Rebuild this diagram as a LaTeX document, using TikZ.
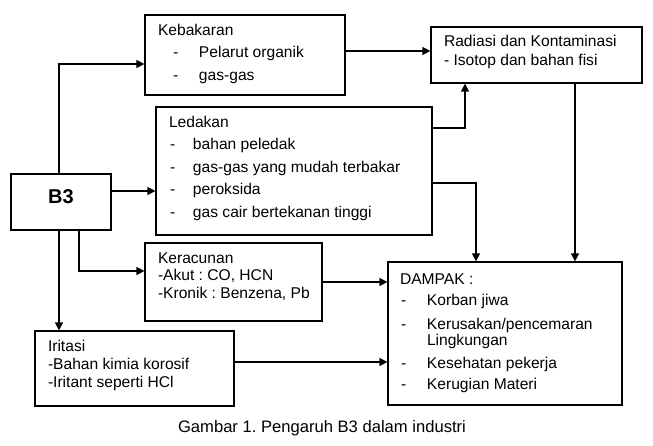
\documentclass[tikz,border=0pt]{standalone}
\usepackage{fontspec}
\setmainfont{Liberation Sans}
\usetikzlibrary{arrows.meta,positioning}
\newcommand{\butir}[2]{\hspace*{#1}\makebox[#2][l]{-}}
\frenchspacing
\tikzset{
	every picture/.style={
		x=1pt,y=-1pt,
		line width=1.2pt
	},
	kotak/.style 2 args={draw,minimum width=#1,minimum height=#2,inner sep=0pt},
	isi/.style={anchor=base west,inner sep=0pt},
	panah/.style={-{Triangle[length=8pt,width=8pt]}}
}

\begin{document}
\begin{tikzpicture}
\useasboundingbox (0,0) rectangle (653,446);
% kotak
\node[kotak={100pt}{56pt},font=\fontsize{20}{24}\bfseries\selectfont,text height=14pt,text depth=10pt] (b3) at (61,202) {B3};
\node[kotak={200pt}{80pt}] (keb) at (245,55) {};
\node[kotak={276pt}{128pt}] (led) at (294,171) {};
\node[kotak={211pt}{56pt}] (rad) at (536.5,55) {};
\node[kotak={177pt}{78pt}] (rac) at (233.5,282) {};
\node[kotak={199pt}{75pt}] (iri) at (134.5,368.5) {};
\node[kotak={234pt}{143pt}] (dam) at (505,333.5) {};
% isi
\node[isi,font=\fontsize{15.6}{22.5}\selectfont] (kebt) at ([shift={(13,21)}]keb.north west) {\begin{tabular}[t]{@{}l@{}}
Kebakaran\\
\butir{15pt}{26pt}Pelarut organik\\
\butir{15pt}{26pt}gas-gas
\end{tabular}};
\node[isi,font=\fontsize{15.6}{22.5}\selectfont] (ledt) at ([shift={(13,21)}]led.north west) {\begin{tabular}[t]{@{}l@{}}
Ledakan\\
\butir{1pt}{23pt}bahan peledak\\
\butir{1pt}{23pt}gas-gas yang mudah terbakar\\
\butir{1pt}{23pt}peroksida\\
\butir{1pt}{23pt}gas cair bertekanan tinggi
\end{tabular}};
\node[isi,font=\fontsize{15.6}{19}\selectfont] (radt) at ([shift={(13,20.5)}]rad.north west) {\begin{tabular}[t]{@{}l@{}}
Radiasi dan Kontaminasi\\
- Isotop dan bahan fisi
\end{tabular}};
\node[isi,font=\fontsize{15.6}{17.5}\selectfont] (ract) at ([shift={(13,21)}]rac.north west) {\begin{tabular}[t]{@{}l@{}}
Keracunan\\
-Akut : CO, HCN\\
-Kronik : Benzena, Pb
\end{tabular}};
\node[isi,font=\fontsize{15.6}{18}\selectfont] (irit) at ([shift={(13,21)}]iri.north west) {\begin{tabular}[t]{@{}l@{}}
Iritasi\\
-Bahan kimia korosif\\
-Iritant seperti HCl
\end{tabular}};
\node[isi,font=\fontsize{15.6}{16}\selectfont] (damt) at ([shift={(12,23)}]dam.north west) {\begin{tabular}[t]{@{}l@{}}
DAMPAK :\\[5pt]
\butir{1pt}{26pt}Korban jiwa\\[8pt]
\butir{1pt}{26pt}Kerusakan/pencemaran\\
\hspace*{27pt}Lingkungan\\[7pt]
\butir{1pt}{26pt}Kesehatan pekerja\\[5pt]
\butir{1pt}{26pt}Kerugian Materi
\end{tabular}};
\node[anchor=base,inner sep=0pt,font=\fontsize{16.6}{19}\selectfont] (judul) at (322,432) {Gambar 1. Pengaruh B3 dalam industri};
% panah
\draw[panah] ([xshift=-2pt]b3.north) |- ([yshift=-9pt]keb.west);
\draw[panah] ([yshift=11pt]b3.east) -- ([yshift=-20pt]led.west);
\draw[panah] ([xshift=18pt]b3.south) |- ([yshift=11pt]rac.west);
\draw[panah] ([xshift=-2pt]b3.south) -- ([xshift=-75.5pt]iri.north);
\draw[panah] ([yshift=4pt]keb.east) -- ([yshift=4pt]rad.west);
\draw[panah] ([yshift=43pt]led.east) -| ([xshift=-71.5pt]rad.south);
\draw[panah] ([yshift=-12pt]led.east) -| ([xshift=-29pt]dam.north);
\draw[panah] ([xshift=38.5pt]rad.south) -- ([xshift=70pt]dam.north);
\draw[panah] (rac.east) -- ([yshift=51.5pt]dam.west);
\draw[panah] ([yshift=6.5pt]iri.east) -- ([yshift=-28.5pt]dam.west);
\end{tikzpicture}
\end{document}
